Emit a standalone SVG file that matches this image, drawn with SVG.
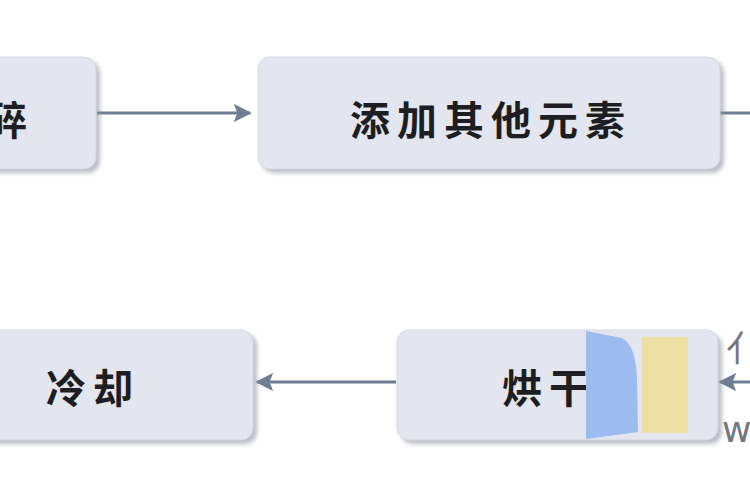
<svg xmlns="http://www.w3.org/2000/svg" width="750" height="500" viewBox="0 0 750 500">
<defs>
<style>
.box{fill:#e3e6ef;stroke:#d3d7e0;stroke-width:1}
.shadow{fill:#8f949e;opacity:0.6}
.lbl{font-family:"Noto Sans CJK SC","Noto Sans CJK JP",sans-serif;font-weight:bold;font-size:40px;fill:#1e1e22;text-anchor:middle;dominant-baseline:central;letter-spacing:7px}
.edge{stroke:#6f7c91;stroke-width:3;fill:none}
.wm{font-family:"DejaVu Sans","Noto Sans CJK SC",sans-serif;font-size:36px;fill:#74777f}
</style>
<filter id="blur" x="-10%" y="-10%" width="120%" height="130%"><feGaussianBlur stdDeviation="2"/></filter>
<marker id="ah" viewBox="0 0 10 10" refX="9" refY="5" markerWidth="6" markerHeight="6" orient="auto" markerUnits="strokeWidth">
<path d="M0,0 L10,5 L0,10 L2,5 z" fill="#6f7c91"/>
</marker>
</defs>
<rect width="750" height="500" fill="#ffffff"/>
<g id="connectors">
<line class="edge" x1="97" y1="113" x2="250" y2="113" marker-end="url(#ah)"/>
<line class="edge" x1="720" y1="113" x2="752" y2="113"/>
<line class="edge" x1="396" y1="382" x2="257" y2="382" marker-end="url(#ah)"/>
<line class="edge" x1="752" y1="382" x2="720" y2="382" marker-end="url(#ah)"/>
</g>
<g id="node-crush">
<rect class="shadow" x="-30" y="61" width="130" height="112" rx="12" filter="url(#blur)"/>
<rect class="box" x="-30" y="57" width="126" height="112" rx="12"/>
<text class="lbl" x="-13" y="118">粉碎</text>
</g>
<g id="node-add">
<rect class="shadow" x="262" y="61" width="462" height="112" rx="12" filter="url(#blur)"/>
<rect class="box" x="258" y="57" width="462" height="112" rx="12"/>
<text class="lbl" x="491" y="118">添加其他元素</text>
</g>
<g id="node-cool">
<rect class="shadow" x="-30" y="334" width="287" height="110" rx="12" filter="url(#blur)"/>
<rect class="box" x="-30" y="330" width="283" height="110" rx="12"/>
<text class="lbl" x="93" y="386">冷却</text>
</g>
<g id="node-dry">
<rect class="shadow" x="401" y="334" width="321" height="110" rx="12" filter="url(#blur)"/>
<rect class="box" x="397" y="330" width="321" height="110" rx="12"/>
<text class="lbl" x="549" y="386">烘干</text>
<path d="M586,331 L622,338 Q636,345 637,380 L638,432 L586,439 Z" fill="#9cbcf0"/>
<rect x="642" y="337" width="46" height="96" fill="#eee0a2"/>
</g>
<text class="wm" x="726" y="362">亻</text>
<text class="wm" x="722" y="442">w</text>
</svg>
